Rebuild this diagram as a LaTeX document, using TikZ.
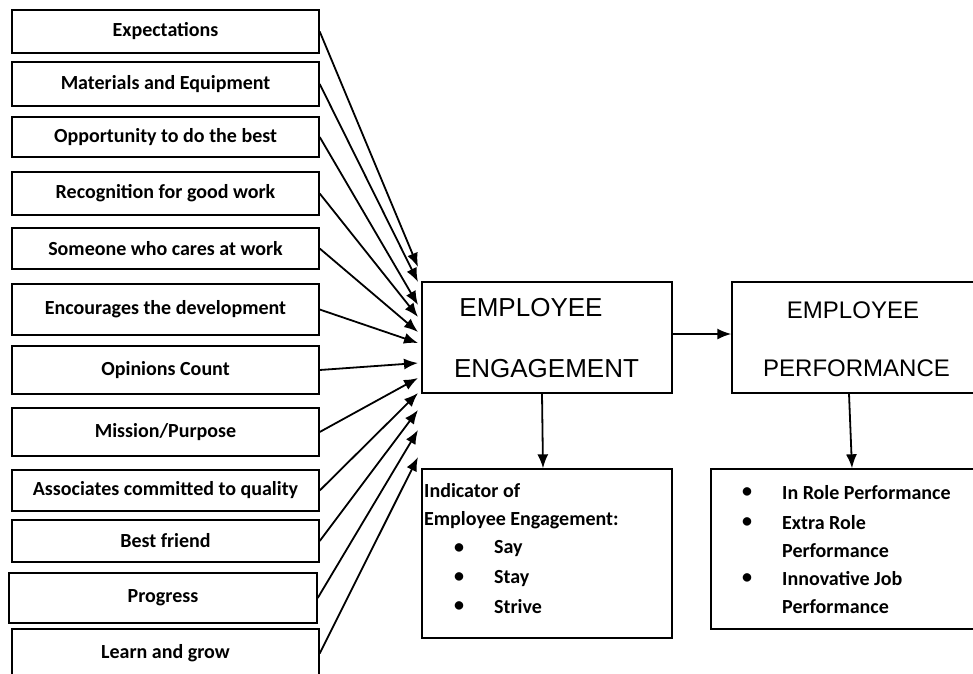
\documentclass[tikz,border=0pt]{standalone}
\usepackage{fontspec}
\setmainfont{Carlito}
\newfontfamily\headfont{Liberation Sans}
\usetikzlibrary{arrows.meta}

\begin{document}
\begin{tikzpicture}[x=1pt,y=-1pt,>={Latex[length=14pt,width=11pt]},
    factor/.style={draw,line width=1.4pt,inner sep=0pt,
        font=\bfseries\fontsize{20}{24}\selectfont},
    bigbox/.style={draw,line width=1.4pt,inner sep=0pt},
    head/.style={font=\headfont\fontsize{26}{30}\selectfont,inner sep=0pt},
    item/.style={anchor=west,inner sep=0pt,font=\bfseries\fontsize{20}{24}\selectfont},
    dot/.style={inner sep=0pt,font=\bfseries\fontsize{20}{24}\selectfont},
    link/.style={->,line width=1.8pt}]

        % page frame
        \useasboundingbox (0,0) rectangle (973,673);
        \clip (0,0) rectangle (973,673);

        % the twelve factors on the left
        \foreach \n/\t/\b/\l/\r/\txt in {
            1/10/53/12/319/Expectations,
            2/62/106/12/319/Materials and Equipment,
            3/117/157/12/319/Opportunity to do the best,
            4/172/215/12/319/Recognition for good work,
            5/228/269/12/319/Someone who cares at work,
            6/284/335/12/319/Encourages the development,
            7/346/394/12/319/Opinions Count,
            8/408/456/12/319/Mission\slash Purpose,
            9/470/511/12/319/Associates committed to quality,
            10/520/562/12/319/Best friend,
            11/573/623/9/317/Progress,
            12/629/678/12/319/Learn and grow}
                \node[factor,minimum width={(\r-\l)*1pt},minimum height={(\b-\t)*1pt}]
                    (f\n) at ({(\l+\r)/2},{(\t+\b)/2}) {\txt};

        % engagement and performance
        \node[bigbox,minimum width=250pt,minimum height=111pt] (eng) at (547,337.5) {};
        \node[head] (engA) at (531,308) {EMPLOYEE};
        \node[head] (engB) at (546.5,369) {ENGAGEMENT};

        \node[bigbox,minimum width=250pt,minimum height=111pt] (perf) at (857,337.5) {};
        \node[head,font=\headfont\fontsize{24}{28}\selectfont] (perfA) at (853,310) {EMPLOYEE};
        \node[head,font=\headfont\fontsize{24}{28}\selectfont] (perfB) at (856.5,368) {PERFORMANCE};

        % indicator box
        \node[bigbox,minimum width=250pt,minimum height=169pt] (ind) at (547,553.5) {};
        \node[item] (indA) at (424,491) {Indicator of};
        \node[item] (indB) at (424,520) {Employee Engagement:};
        \foreach \y/\txt in {549/Say,578/Stay,607/Strive} {
                \node[dot] at (459,\y) {\textbullet};
                \node[item] at (494,\y) {\txt};
        }

        % performance kinds
        \node[bigbox,minimum width=274pt,minimum height=160pt] (kinds) at (848,549) {};
        \foreach \y in {493,523,579}
                \node[dot] at (747,\y) {\textbullet};
        \foreach \y/\txt in {493/In Role Performance,523/Extra Role,551/Performance,
                579/Innovative Job,607/Performance}
                \node[item] at (782,\y) {\txt};

        % arrows from the factors
        \foreach \n/\y in {1/267,2/282,3/305,4/317,5/332,6/343,
                7/363,8/378,9/393,10/410,11/430,12/457} {
                \coordinate (t\n) at (418,\y);
                \draw[link] (f\n.east) -- (t\n);
        }

        % arrows between the boxes
        \draw[link] ([yshift=3.5pt]eng.east) -- ([yshift=3.5pt]perf.west);
        \draw[link] ([xshift=-5pt]eng.south) -- ([xshift=-4pt]ind.north);
        \draw[link] ([xshift=-8pt]perf.south) -- ([xshift=4pt]kinds.north);

\end{tikzpicture}
\end{document}
